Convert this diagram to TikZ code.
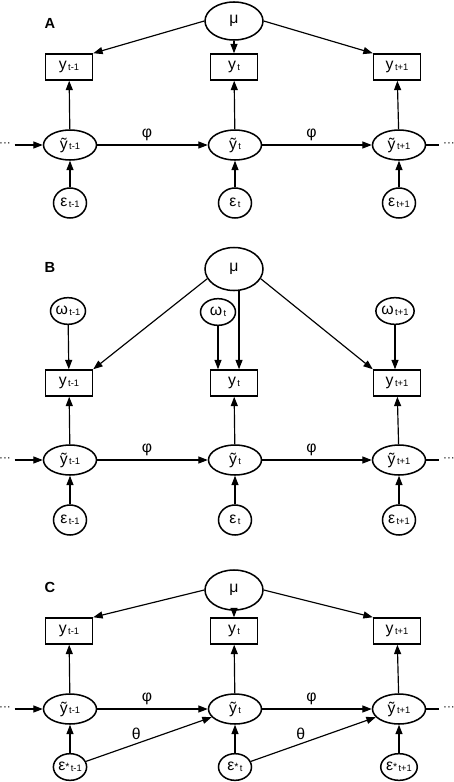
\documentclass[tikz,border=0pt]{standalone}
\usepackage{fontspec}
\setmainfont{Liberation Sans}
\usetikzlibrary{arrows.meta, shapes.geometric, calc}
\newcommand\sbx[2]{#1\hspace{1.2pt}\raisebox{-0.8pt}{\fontsize{8}{9}\selectfont #2}}

\begin{document}
\begin{tikzpicture}[x=0.03cm, y=-0.03cm, >={Triangle[length=8pt,width=6pt]},
    font=\fontsize{13.5}{15}\selectfont,
    obs/.style={rectangle, draw, line width=1.3pt, minimum width=1.41cm, minimum height=0.78cm, inner sep=0pt},
    lat/.style={ellipse, draw, line width=1.3pt, minimum width=1.59cm, minimum height=0.9cm, inner sep=0pt},
    mean/.style={ellipse, draw, line width=1.3pt, minimum width=1.74cm, minimum height=1.14cm, inner sep=0pt},
    err/.style={ellipse, draw, line width=1.3pt, minimum width=0.99cm, minimum height=0.9cm, inner sep=0pt},
    dots/.style={inner xsep=3pt, inner ysep=0pt, font=\fontsize{10}{10}\selectfont},
    panel/.style={font=\fontsize{12.5}{14}\selectfont\bfseries},
    arr/.style={->, line width=1pt}]
  \useasboundingbox (0,0) rectangle (454,782);

  % panel A
  \node[panel] (Alab) at (50,23) {A};
  \node[mean] (Amu) at (234,21) {μ};
  \node[obs] (Ay1) at (69,67) {\sbx{y}{t-1}};
  \node[obs] (Ay2) at (234,67) {\sbx{y}{t}};
  \node[obs] (Ay3) at (397,67) {\sbx{y}{t+1}};
  \node[lat] (Ayt1) at (70,145) {\sbx{ỹ}{t-1}};
  \node[lat] (Ayt2) at (235,145) {\sbx{ỹ}{t}};
  \node[lat] (Ayt3) at (399,145) {\sbx{ỹ}{t+1}};
  \node[err] (Ae1) at (70,203) {\sbx{ε}{t-1}};
  \node[err] (Ae2) at (235,203) {\sbx{ε}{t}};
  \node[err] (Ae3) at (399,203) {\sbx{ε}{t+1}};
  \node[dots] (Al) at (5,145) {···};
  \node[dots] (Ar) at (449,145) {···};

  \draw[arr] (Amu.west) -- (Ay1.north east);
  \draw[arr] (Amu) -- (Ay2);
  \draw[arr] (Amu.east) -- (Ay3.north west);
  \draw[arr] (Ayt1) -- (Ay1);
  \draw[arr] (Ayt2) -- (Ay2);
  \draw[arr] (Ayt3) -- (Ay3);
  \draw[arr] (Ae1) -- (Ayt1);
  \draw[arr] (Ae2) -- (Ayt2);
  \draw[arr] (Ae3) -- (Ayt3);
  \draw[arr] (Al) -- (Ayt1);
  \draw[arr] (Ayt1) -- node[above, pos=0.45]{φ} (Ayt2);
  \draw[arr] (Ayt2) -- node[above, pos=0.45]{φ} (Ayt3);
  \draw[line width=1pt] (Ayt3) -- (Ar);

  % panel B
  \node[panel] (Blab) at (50,267) {B};
  \node[mean, minimum height=1.29cm] (Bmu) at (234,269) {μ};
  \node[err, minimum width=1.05cm, minimum height=0.8cm] (Bw1) at (68,311) {\sbx{ω}{t-1}};
  \node[err, minimum width=1.05cm, minimum height=0.8cm] (Bw2) at (218,312) {\sbx{ω}{t}};
  \node[err, minimum width=1.05cm, minimum height=0.8cm] (Bw3) at (395,311) {\sbx{ω}{t+1}};
  \node[obs] (By1) at (69,383) {\sbx{y}{t-1}};
  \node[obs] (By2) at (234,383) {\sbx{y}{t}};
  \node[obs] (By3) at (397,383) {\sbx{y}{t+1}};
  \node[lat] (Byt1) at (70,460) {\sbx{ỹ}{t-1}};
  \node[lat] (Byt2) at (235,460) {\sbx{ỹ}{t}};
  \node[lat] (Byt3) at (399,460) {\sbx{ỹ}{t+1}};
  \node[err] (Be1) at (70,520) {\sbx{ε}{t-1}};
  \node[err] (Be2) at (235,520) {\sbx{ε}{t}};
  \node[err] (Be3) at (399,520) {\sbx{ε}{t+1}};
  \node[dots] (Bl) at (5,460) {···};
  \node[dots] (Br) at (449,460) {···};

  \draw[arr] (Bmu.200) -- (By1.north east);
  \draw[arr] ([xshift=4.3pt]Bmu.south) -- ([xshift=4.3pt]By2.north);
  \draw[arr] (Bmu.-20) -- (By3.north west);
  \draw[arr] (Bw1) -- (By1);
  \draw[arr] (Bw2) -- (Bw2.south |- By2.north);
  \draw[arr] (Bw3) -- (Bw3.south |- By3.north);
  \draw[arr] (Byt1) -- (By1);
  \draw[arr] (Byt2) -- (By2);
  \draw[arr] (Byt3) -- (By3);
  \draw[arr] (Be1) -- (Byt1);
  \draw[arr] (Be2) -- (Byt2);
  \draw[arr] (Be3) -- (Byt3);
  \draw[arr] (Bl) -- (Byt1);
  \draw[arr] (Byt1) -- node[above, pos=0.45]{φ} (Byt2);
  \draw[arr] (Byt2) -- node[above, pos=0.45]{φ} (Byt3);
  \draw[line width=1pt] (Byt3) -- (Br);

  % panel C
  \node[panel] (Clab) at (50,587) {C};
  \node[mean, minimum height=1.2cm] (Cmu) at (234,590) {μ};
  \node[obs] (Cy1) at (69,631) {\sbx{y}{t-1}};
  \node[obs] (Cy2) at (234,631) {\sbx{y}{t}};
  \node[obs] (Cy3) at (397,631) {\sbx{y}{t+1}};
  \node[lat] (Cyt1) at (70,709) {\sbx{ỹ}{t-1}};
  \node[lat] (Cyt2) at (235,709) {\sbx{ỹ}{t}};
  \node[lat] (Cyt3) at (399,709) {\sbx{ỹ}{t+1}};
  \node[err, minimum height=0.8cm] (Ce1) at (70,767) {\sbx{ε{\fontsize{9}{9}\selectfont *}}{t-1}};
  \node[err, minimum height=0.8cm] (Ce2) at (235,767) {\sbx{ε{\fontsize{9}{9}\selectfont *}}{t}};
  \node[err, minimum height=0.8cm] (Ce3) at (399,767) {\sbx{ε{\fontsize{9}{9}\selectfont *}}{t+1}};
  \node[dots] (Cl) at (5,709) {···};
  \node[dots] (Cr) at (449,709) {···};

  \draw[arr] (Cmu.west) -- (Cy1.north east);
  \draw[arr] (Cmu) -- (Cy2);
  \draw[arr] (Cmu.east) -- (Cy3.north west);
  \draw[arr] (Cyt1) -- (Cy1);
  \draw[arr] (Cyt2) -- (Cy2);
  \draw[arr] (Cyt3) -- (Cy3);
  \draw[arr] (Ce1) -- (Cyt1);
  \draw[arr] (Ce2) -- (Cyt2);
  \draw[arr] (Ce3) -- (Cyt3);
  \draw[arr] (Cl) -- (Cyt1);
  \draw[arr] (Cyt1) -- node[above, pos=0.45]{φ} (Cyt2);
  \draw[arr] (Cyt2) -- node[above, pos=0.45]{φ} (Cyt3);
  \draw[arr] (Ce1) -- node[above, pos=0.4]{θ} (Cyt2);
  \draw[arr] (Ce2) -- node[above, pos=0.4]{θ} (Cyt3);
  \draw[line width=1pt] (Cyt3) -- (Cr);
\end{tikzpicture}
\end{document}
